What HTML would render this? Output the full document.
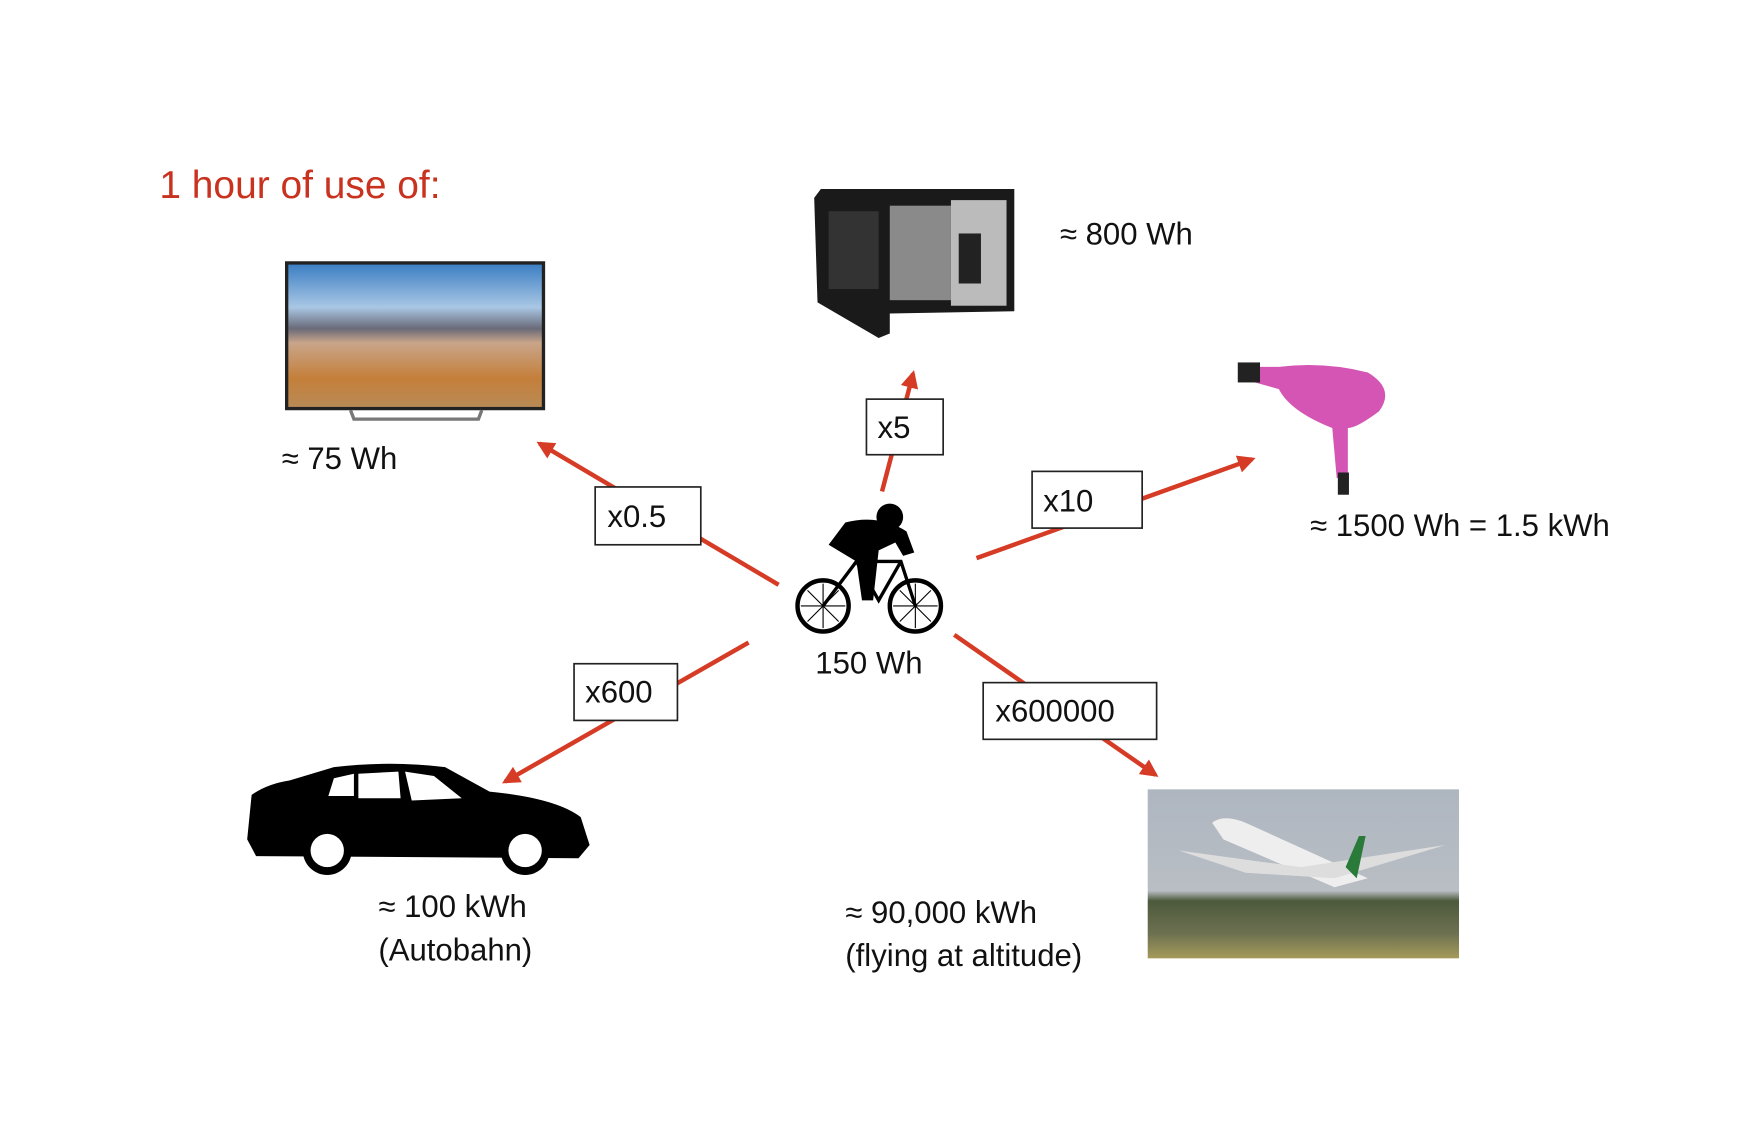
<!DOCTYPE html>
<html><head><meta charset="utf-8"><style>
html,body{margin:0;padding:0;background:#fff;}
svg{display:block;}
text{font-family:"Liberation Sans",sans-serif;fill:#111;}
</style></head><body>
<svg width="1744" height="1124" viewBox="0 0 1568 1011" xmlns="http://www.w3.org/2000/svg">
<defs>
<linearGradient id="tv" x1="0" y1="0" x2="0" y2="1">
<stop offset="0" stop-color="#3d7fc4"/><stop offset="0.3" stop-color="#a9c7e4"/><stop offset="0.45" stop-color="#6a6a78"/><stop offset="0.55" stop-color="#c9a58a"/><stop offset="0.8" stop-color="#c47f3a"/><stop offset="1" stop-color="#b98a55"/>
</linearGradient>
<linearGradient id="pl" x1="0" y1="0" x2="0" y2="1">
<stop offset="0" stop-color="#aeb6c0"/><stop offset="0.6" stop-color="#b9bec4"/><stop offset="0.66" stop-color="#4c5a3c"/><stop offset="0.85" stop-color="#6c7050"/><stop offset="1" stop-color="#a59a5a"/>
</linearGradient>
<marker id="ah" viewBox="0 0 10 10" refX="8" refY="5" markerWidth="4" markerHeight="4" orient="auto"><path d="M0,0 L10,5 L0,10 z" fill="#d63b25"/></marker>
</defs>
<text x="143" y="178" font-size="35" style="fill:#c8321e">1 hour of use of:</text>

<!-- TV -->
<rect x="256" y="235" width="234" height="134" fill="#222"/>
<rect x="259" y="238" width="228" height="128" fill="url(#tv)"/>
<path d="M315,369 L318,377 L430,377 L433,369" fill="none" stroke="#777" stroke-width="3"/>
<text x="253" y="422" font-size="28">≈ 75 Wh</text>

<!-- Microwave -->
<path d="M732,178 L738,170 L912,170 L912,280 L800,282 L800,300 L790,304 L735,272 Z" fill="#1a1a1a"/>
<rect x="800" y="185" width="55" height="85" fill="#8a8a8a"/>
<rect x="745" y="190" width="45" height="70" fill="#333"/>
<rect x="855" y="180" width="50" height="95" fill="#bbb"/>
<rect x="862" y="210" width="20" height="45" fill="#222"/>
<text x="953" y="220" font-size="28">≈ 800 Wh</text>

<!-- Hairdryer -->
<path d="M1114,330 L1150,330 Q1190,325 1230,335 Q1255,350 1240,370 Q1220,385 1212,385 L1212,430 L1202,430 L1198,385 Q1160,370 1150,350 L1114,340 Z" fill="#d455b4"/>
<rect x="1113" y="326" width="20" height="18" fill="#222"/>
<rect x="1203" y="425" width="10" height="20" fill="#222"/>
<text x="1178" y="482" font-size="28">≈ 1500 Wh = 1.5 kWh</text>

<!-- Bike -->
<g fill="none" stroke="#000">
<circle cx="740" cy="545" r="23" stroke-width="4"/><circle cx="823" cy="545" r="23" stroke-width="4"/>
<path d="M740,545 L770,505 L810,505 L823,545 M770,505 L790,540 L810,505" stroke-width="3"/>
<path d="M720,545 H760 M740,525 V565 M726,531 L754,559 M726,559 L754,531 M803,545 H843 M823,525 V565 M809,531 L837,559 M809,559 L837,531" stroke-width="1"/>
</g>
<circle cx="800" cy="465" r="12" fill="#000"/>
<path d="M760,470 Q790,462 815,478 L822,497 L812,500 L805,488 L790,495 L785,540 L775,540 L770,505 L745,490 Z" fill="#000"/>
<text x="733" y="606" font-size="28">150 Wh</text>

<!-- Car -->
<path d="M226,715 Q240,705 260,702 L300,690 Q350,684 400,690 L440,712 Q500,718 522,735 L530,760 L520,772 L230,770 L222,755 Z" fill="#000"/>
<path d="M300,700 L318,696 L318,716 L295,716 Z M322,696 L358,694 L360,718 L322,718 Z M364,694 L390,698 L415,718 L370,720 Z" fill="#fff"/>
<circle cx="294" cy="765" r="22" fill="#000"/><circle cx="294" cy="765" r="15" fill="#fff"/>
<circle cx="472" cy="765" r="22" fill="#000"/><circle cx="472" cy="765" r="15" fill="#fff"/>
<text x="340" y="825" font-size="28">≈ 100 kWh</text>
<text x="340" y="864" font-size="28">(Autobahn)</text>

<!-- Plane -->
<rect x="1032" y="710" width="280" height="152" fill="url(#pl)"/>
<path d="M1090,740 Q1100,732 1120,740 L1230,790 L1200,798 L1100,755 Z" fill="#eee"/>
<path d="M1060,765 L1170,780 L1300,760 L1200,790 L1120,785 Z" fill="#ddd"/>
<path d="M1210,780 L1222,752 L1228,752 L1220,790 Z" fill="#2a7a3a"/>
<text x="760" y="830" font-size="28">≈ 90,000  kWh</text>
<text x="760" y="869" font-size="28">(flying at altitude)</text>

<!-- Arrows -->
<g stroke="#d63b25" stroke-width="4" fill="none" marker-end="url(#ah)">
<line x1="700" y1="526" x2="485" y2="399"/>
<line x1="793" y1="442" x2="821" y2="336"/>
<line x1="878" y1="502" x2="1126" y2="413"/>
<line x1="673" y1="578" x2="454" y2="703"/>
<line x1="858" y1="571" x2="1039" y2="697"/>
</g>
<g fill="#fff" stroke="#222" stroke-width="1.5">
<rect x="535" y="438" width="95" height="52"/>
<rect x="779" y="359" width="69" height="50"/>
<rect x="928" y="424" width="99" height="51"/>
<rect x="516" y="597" width="93" height="51"/>
<rect x="884" y="614" width="156" height="51"/>
</g>
<g font-size="28">
<text x="546" y="474">x0.5</text>
<text x="789" y="394">x5</text>
<text x="938" y="460">x10</text>
<text x="526" y="632">x600</text>
<text x="895" y="649">x600000</text>
</g>
</svg>
</body></html>
